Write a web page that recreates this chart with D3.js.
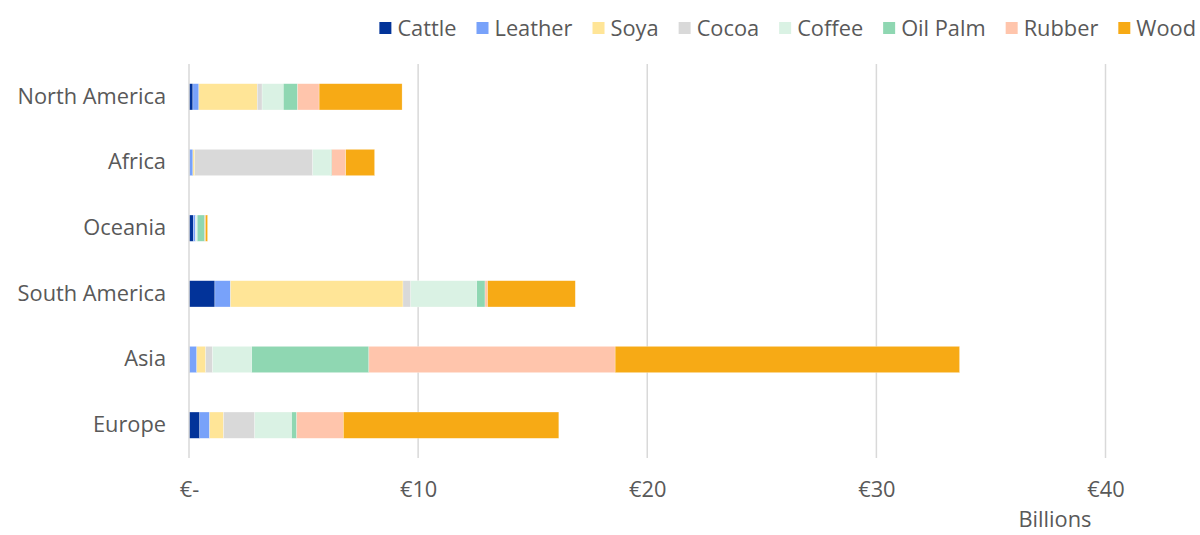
<!DOCTYPE html>
<html>
<head>
<meta charset="utf-8">
<script src="https://cdn.jsdelivr.net/npm/d3@7"></script>
<style>
  html, body { margin: 0; padding: 0; background: #fff; }
  svg { display: block; font-family: "Open Sans", Roboto, sans-serif; }
</style>
</head>
<body>
<svg id="chart" width="1200" height="535"></svg>
<script>
const regions = ["North America", "Africa", "Oceania", "South America", "Asia", "Europe"];
const commodities = ["Cattle", "Leather", "Soya", "Cocoa", "Coffee", "Oil Palm", "Rubber", "Wood"];
const colors = ["#023399", "#78A2FA", "#FFE597", "#D9D9D9", "#DAF2E4", "#8FD7B2", "#FFC5AC", "#F7AA15"];
// values in € billions, per region, in commodity order
const cattle  = [0.17, 0.02, 0.19, 1.13, 0.02, 0.47];
const leather = [0.26, 0.15, 0.10, 0.68, 0.32, 0.43];
const soya    = [2.55, 0.08, 0.01, 7.53, 0.39, 0.61];
const cocoa   = [0.21, 5.15, 0.01, 0.34, 0.30, 1.36];
const coffee  = [0.93, 0.79, 0.05, 2.88, 1.71, 1.61];
const oilPalm = [0.62, 0.04, 0.33, 0.36, 5.11, 0.22];
const rubber  = [0.94, 0.61, 0.03, 0.11, 10.75, 2.04];
const wood    = [3.62, 1.26, 0.09, 3.83, 15.03, 9.40];
const tickValues = [0, 10, 20, 30, 40];
const tickLabels = ["€-", "€10", "€20", "€30", "€40"];
const axisTitle = "Billions";

const series = [cattle, leather, soya, cocoa, coffee, oilPalm, rubber, wood];
const table = regions.map((r, i) => {
  const row = { region: r };
  commodities.forEach((c, j) => row[c] = series[j][i]);
  return row;
});

const svg = d3.select("#chart");
const margin = { left: 189, right: 1105.5, top: 64, bottom: 458 };
const textColor = "#595959";
const fontSize = "21.8px";

const x = d3.scaleLinear().domain([0, 40]).range([margin.left, margin.right]);
const y = d3.scaleBand().domain(regions).range([margin.top, margin.bottom]).paddingInner(0.6).paddingOuter(0.3);
const color = d3.scaleOrdinal().domain(commodities).range(colors);

// gridlines
svg.append("g")
  .selectAll("line")
  .data(tickValues.slice(1))
  .join("line")
  .attr("x1", d => x(d)).attr("x2", d => x(d))
  .attr("y1", margin.top).attr("y2", margin.bottom)
  .attr("stroke", "#D9D9D9").attr("stroke-width", 1.5);

// stacked bars
const stack = d3.stack().keys(commodities)(table);
svg.append("g")
  .selectAll("g")
  .data(stack)
  .join("g")
  .attr("fill", d => color(d.key))
  .selectAll("rect")
  .data(d => d)
  .join("rect")
  .attr("x", d => x(d[0]))
  .attr("width", d => Math.max(0, x(d[1]) - x(d[0])))
  .attr("y", d => y(d.data.region))
  .attr("height", y.bandwidth())
  .attr("stroke", "#fff")
  .attr("stroke-opacity", 0.5)
  .attr("stroke-width", 0.5);

// vertical axis line
svg.append("line")
  .attr("x1", x(0)).attr("x2", x(0))
  .attr("y1", margin.top).attr("y2", margin.bottom)
  .attr("stroke", "#D9D9D9").attr("stroke-width", 1.5);

// x axis tick labels
const xAxis = d3.axisBottom(x).tickValues(tickValues)
  .tickFormat((d, i) => tickLabels[i]).tickSize(0).tickPadding(0);
const gx = svg.append("g").attr("transform", `translate(0, ${margin.bottom + 39})`).call(xAxis);
gx.select(".domain").remove();
gx.selectAll("text")
  .attr("dy", 0)
  .attr("fill", textColor)
  .style("font-size", fontSize)
  .style("font-family", "'Open Sans', sans-serif");

// y axis labels
const yAxis = d3.axisLeft(y).tickSize(0).tickPadding(0);
const gy = svg.append("g").attr("transform", `translate(${margin.left - 23}, 0)`).call(yAxis);
gy.select(".domain").remove();
gy.selectAll("text")
  .attr("fill", textColor)
  .style("font-size", fontSize)
  .style("font-family", "'Open Sans', sans-serif");

// axis title
svg.append("text")
  .attr("x", 1055).attr("y", 527)
  .attr("text-anchor", "middle")
  .attr("fill", textColor)
  .style("font-size", fontSize)
  .text(axisTitle);

// legend
const legend = svg.append("g");
const items = legend.selectAll("g").data(commodities).join("g");
items.append("rect").attr("width", 12).attr("height", 12).attr("fill", d => color(d));
items.append("text").attr("x", 18).attr("y", 6).attr("dy", "0.35em")
  .attr("fill", textColor).style("font-size", fontSize).text(d => d);
let pos = 0;
const positions = [];
items.each(function () {
  positions.push(pos);
  const w = d3.select(this).select("text").node().getComputedTextLength();
  pos += 18 + w + 20;
});
const totalW = pos - 20;
const startX = 1196 - totalW;
items.attr("transform", (d, i) => `translate(${startX + positions[i]}, 22)`);
</script>
</body>
</html>
